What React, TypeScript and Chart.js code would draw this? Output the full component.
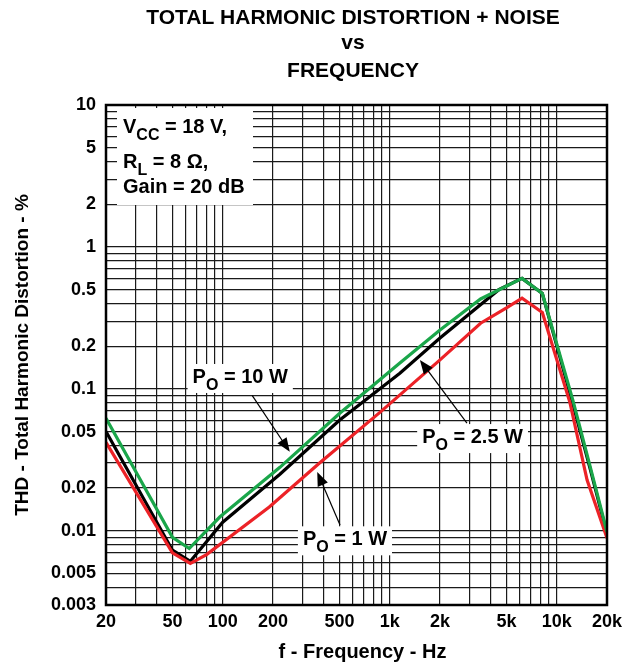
import React, { useEffect, useRef } from 'react';
import { Chart, registerables } from 'chart.js';

Chart.register(...registerables);

const FONT = "'Liberation Sans', Arial, Helvetica, sans-serif";

// Series: P_O = 10 W (green)
const freq10W = [20, 50, 63, 96, 220, 500, 1150, 2000, 3500, 6200, 8200, 12500, 15900, 20000];
const thd10W = [0.062, 0.009, 0.0075, 0.0125, 0.028, 0.067, 0.152, 0.26, 0.43, 0.6, 0.47, 0.083, 0.028, 0.0098];

// Series: P_O = 2.5 W (black)
const freq2p5W = [20, 50, 64, 100, 220, 500, 1150, 2000, 4500, 6200, 8200, 12500, 15900, 20000];
const thd2p5W = [0.05, 0.0073, 0.0061, 0.0115, 0.025, 0.06, 0.129, 0.228, 0.5, 0.6, 0.47, 0.078, 0.027, 0.0095];

// Series: P_O = 1 W (red)
const freq1W = [20, 50, 64, 80, 190, 380, 870, 2000, 3500, 5000, 6200, 8200, 12000, 15200, 20000];
const thd1W = [0.042, 0.007, 0.0059, 0.0068, 0.0147, 0.03, 0.068, 0.16, 0.29, 0.372, 0.436, 0.345, 0.08, 0.0228, 0.0089];

// Tick labels
const xTickValues = [20, 50, 100, 200, 500, 1000, 2000, 5000, 10000, 20000];
const xTickLabels = ['20', '50', '100', '200', '500', '1k', '2k', '5k', '10k', '20k'];
const yTickValues = [10, 5, 2, 1, 0.5, 0.2, 0.1, 0.05, 0.02, 0.01, 0.005, 0.003];
const yTickLabels = ['10', '5', '2', '1', '0.5', '0.2', '0.1', '0.05', '0.02', '0.01', '0.005', '0.003'];

const X_MIN = 20, X_MAX = 20000, Y_MIN = 0.003, Y_MAX = 10;

function logGrid(min: number, max: number): number[] {
  const out: number[] = [];
  for (let e = -4; e <= 5; e++) {
    for (let m = 1; m < 10; m++) {
      const v = parseFloat((m * Math.pow(10, e)).toPrecision(6));
      if (v >= min * 0.9999 && v <= max * 1.0001) out.push(v);
    }
  }
  return out;
}

function labelFor(values: number[], labels: string[], v: number): string {
  for (let i = 0; i < values.length; i++) {
    if (Math.abs(values[i] - v) / values[i] < 1e-6) return labels[i];
  }
  return '';
}

type Part = { t: string; sub?: boolean };

function drawRich(ctx: CanvasRenderingContext2D, x: number, base: number, parts: Part[], size: number) {
  let cx = x;
  ctx.textAlign = 'left';
  ctx.textBaseline = 'alphabetic';
  for (const p of parts) {
    const s = p.sub ? Math.round(size * 0.82) : size;
    ctx.font = `bold ${s}px ${FONT}`;
    ctx.fillText(p.t, cx, base + (p.sub ? size * 0.33 : 0));
    cx += ctx.measureText(p.t).width;
  }
  return cx;
}

function drawArrow(ctx: CanvasRenderingContext2D, x1: number, y1: number, x2: number, y2: number) {
  const ang = Math.atan2(y2 - y1, x2 - x1);
  const hl = 14, hw = 5.5;
  ctx.save();
  ctx.strokeStyle = '#000';
  ctx.fillStyle = '#000';
  ctx.lineWidth = 1.2;
  ctx.beginPath();
  ctx.moveTo(x1, y1);
  ctx.lineTo(x2 - Math.cos(ang) * hl * 0.8, y2 - Math.sin(ang) * hl * 0.8);
  ctx.stroke();
  ctx.beginPath();
  ctx.moveTo(x2, y2);
  ctx.lineTo(x2 - Math.cos(ang) * hl + Math.sin(ang) * hw, y2 - Math.sin(ang) * hl - Math.cos(ang) * hw);
  ctx.lineTo(x2 - Math.cos(ang) * hl - Math.sin(ang) * hw, y2 - Math.sin(ang) * hl + Math.cos(ang) * hw);
  ctx.closePath();
  ctx.fill();
  ctx.restore();
}

// Curve annotations in data coordinates: [freq, thd]
const label10W = { at: [66, 0.11], parts: [{ t: 'P' }, { t: 'O', sub: true }, { t: ' = 10 W' }] as Part[], arrow: [[150, 0.09], [252, 0.036]] };
const label2p5W = { at: [1564, 0.0415], parts: [{ t: 'P' }, { t: 'O', sub: true }, { t: ' = 2.5 W' }] as Part[], arrow: [[2900, 0.0574], [1516, 0.16]] };
const label1W = { at: [302, 0.0079], parts: [{ t: 'P' }, { t: 'O', sub: true }, { t: ' = 1 W' }] as Part[], arrow: [[504, 0.011], [368, 0.026]] };
const curveLabels = [label10W, label2p5W, label1W];

const LABEL_SIZE = 20;

const decorPlugin = {
  id: 'decor',
  beforeDatasetsDraw(chart: any) {
    const { ctx, chartArea: a, scales } = chart;
    const xs = scales.x, ys = scales.y;
    ctx.save();
    ctx.fillStyle = '#fff';
    // conditions box
    ctx.fillRect(a.left + 11, a.top + 3, 136, 97);
    // curve label boxes
    for (const L of curveLabels) {
      const px = xs.getPixelForValue(L.at[0]);
      const py = ys.getPixelForValue(L.at[1]);
      let w = 0;
      for (const p of L.parts) {
        ctx.font = `bold ${p.sub ? Math.round(LABEL_SIZE * 0.82) : LABEL_SIZE}px ${FONT}`;
        w += ctx.measureText(p.t).width;
      }
      ctx.fillRect(px - 5, py - 19, w + 10, 29);
    }
    ctx.restore();
  },
  afterDatasetsDraw(chart: any) {
    const { ctx, chartArea: a, scales } = chart;
    const xs = scales.x, ys = scales.y;
    ctx.save();
    ctx.fillStyle = '#000';
    // conditions text
    const lx = a.left + 17;
    drawRich(ctx, lx, a.top + 28, [{ t: 'V' }, { t: 'CC', sub: true }, { t: ' = 18 V,' }], LABEL_SIZE);
    drawRich(ctx, lx, a.top + 63, [{ t: 'R' }, { t: 'L', sub: true }, { t: ' = 8 Ω,' }], LABEL_SIZE);
    drawRich(ctx, lx, a.top + 88, [{ t: 'Gain = 20 dB' }], LABEL_SIZE);
    for (const L of curveLabels) {
      const px = xs.getPixelForValue(L.at[0]);
      const py = ys.getPixelForValue(L.at[1]);
      drawRich(ctx, px, py, L.parts, LABEL_SIZE);
      drawArrow(
        ctx,
        xs.getPixelForValue(L.arrow[0][0]), ys.getPixelForValue(L.arrow[0][1]),
        xs.getPixelForValue(L.arrow[1][0]), ys.getPixelForValue(L.arrow[1][1])
      );
    }
    ctx.restore();
  },
  afterDraw(chart: any) {
    const { ctx, chartArea: a } = chart;
    ctx.save();
    ctx.strokeStyle = '#000';
    ctx.lineWidth = 2.5;
    ctx.strokeRect(a.left, a.top, a.right - a.left, a.bottom - a.top);
    ctx.fillStyle = '#000';
    ctx.textAlign = 'center';
    ctx.textBaseline = 'middle';
    ctx.font = `bold 21px ${FONT}`;
    const cx = 353;
    ctx.fillText('TOTAL HARMONIC DISTORTION + NOISE', cx, 18);
    ctx.fillText('vs', cx, 43);
    ctx.fillText('FREQUENCY', cx, 71);
    ctx.font = `bold 20px ${FONT}`;
    ctx.fillText('f - Frequency - Hz', (a.left + a.right) / 2 + 6, 652);
    ctx.font = `bold 19px ${FONT}`;
    ctx.save();
    ctx.translate(23, (a.top + a.bottom) / 2);
    ctx.rotate(-Math.PI / 2);
    ctx.fillText('THD - Total Harmonic Distortion - %', 0, 0);
    ctx.restore();
    ctx.restore();
  },
};

function toPoints(xs: number[], ys: number[]) {
  return xs.map((x, i) => ({ x, y: ys[i] }));
}

export default function App() {
  const ref = useRef<HTMLCanvasElement | null>(null);

  useEffect(() => {
    if (!ref.current) return;
    const xGrid = logGrid(X_MIN, X_MAX);
    const yGrid = logGrid(Y_MIN, Y_MAX);
    const chart = new Chart(ref.current, {
      type: 'scatter',
      data: {
        datasets: [
          { label: 'PO = 10 W', data: toPoints(freq10W, thd10W), borderColor: '#1aa64a', backgroundColor: '#1aa64a' },
          { label: 'PO = 1 W', data: toPoints(freq1W, thd1W), borderColor: '#ec2227', backgroundColor: '#ec2227' },
          { label: 'PO = 2.5 W', data: toPoints(freq2p5W, thd2p5W), borderColor: '#000000', backgroundColor: '#000000' },
        ].map((d) => ({ ...d, showLine: true, borderWidth: 3.2, pointRadius: 0, tension: 0, borderJoinStyle: 'miter' as const })),
      },
      options: {
        animation: false,
        responsive: true,
        maintainAspectRatio: false,
        layout: { padding: { top: 105, right: 35, left: 0, bottom: 0 } },
        plugins: { legend: { display: false }, tooltip: { enabled: false }, title: { display: false } },
        scales: {
          x: {
            type: 'logarithmic',
            min: X_MIN,
            max: X_MAX,
            afterBuildTicks: (s: any) => { s.ticks = xGrid.map((v) => ({ value: v })); },
            afterFit: (s: any) => { s.height = 60; },
            ticks: {
              autoSkip: false,
              maxRotation: 0,
              padding: 6,
              color: '#000',
              font: { family: FONT, size: 18, weight: 'bold' },
              callback: (v: any) => labelFor(xTickValues, xTickLabels, Number(v)),
            },
            grid: { color: '#1a1a1a', lineWidth: 1.2, drawTicks: false },
            border: { display: false },
          },
          y: {
            type: 'logarithmic',
            min: Y_MIN,
            max: Y_MAX,
            afterBuildTicks: (s: any) => { s.ticks = yGrid.map((v) => ({ value: v })); },
            afterFit: (s: any) => { s.width = 106; },
            ticks: {
              autoSkip: false,
              padding: 10,
              color: '#000',
              font: { family: FONT, size: 18, weight: 'bold' },
              callback: (v: any) => labelFor(yTickValues, yTickLabels, Number(v)),
            },
            grid: { color: '#1a1a1a', lineWidth: 1.2, drawTicks: false },
            border: { display: false },
          },
        },
      },
      plugins: [decorPlugin],
    });
    return () => chart.destroy();
  }, []);

  return (
    <div style={{ position: 'fixed', left: 0, top: 0, width: 642, height: 665, background: '#fff' }}>
      <canvas ref={ref} />
    </div>
  );
}
